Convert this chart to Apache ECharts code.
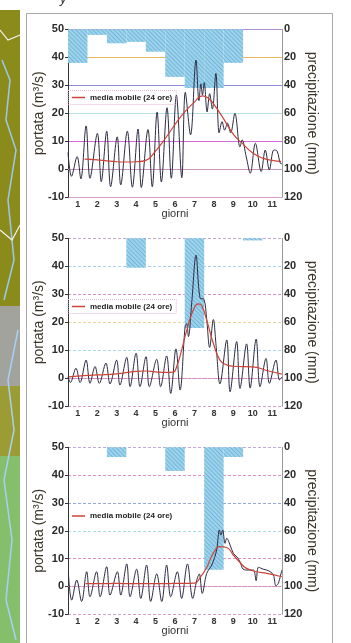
<!DOCTYPE html>
<html>
<head>
<meta charset="utf-8">
<script src="https://cdn.jsdelivr.net/npm/echarts@6.0.0/dist/echarts.min.js"></script>
<style>
  html, body { margin: 0; padding: 0; background: #fff; }
  #chart { width: 351px; height: 643px; }
</style>
</head>
<body>
<div id="chart"></div>
<script>
const days = [1, 2, 3, 4, 5, 6, 7, 8, 9, 10, 11]

// daily rain (mm), one bar per day
const rain1 = [24, 4, 10, 9, 16, 34, 42, 42, 24, 0, 0]
const rain2 = [0, 0, 0, 21, 0, 0, 64, 0, 0, 1.5, 0]
const rain3 = [0, 0, 7, 0, 0, 17, 0, 88, 7, 0, 0]

// flow (m3/s): [day, value]
const flow1 = [
    [0.5, 6], [0.68, -2.5], [0.97, 4.5], [1.16, -3.4], [1.43, 15.5], [1.63, -3.2],
    [2.01, 12.8], [2.21, -4.4], [2.49, 13.6], [2.69, -6.2], [3.03, 11.6], [3.21, -5.6],
    [3.55, 13.6], [3.81, -6.4], [4.1, 14.4], [4.27, -6.5], [4.61, 14.2], [4.83, -6.2],
    [5.08, 20.4], [5.3, -4.5], [5.59, 22], [5.81, -3.2], [6.07, 26.5], [6.35, -3],
    [6.53, 27.5], [6.8, 12.3], [7.08, 39], [7.23, 24.5], [7.33, 30.5], [7.41, 26.5],
    [7.5, 31], [7.65, 20.5], [7.78, 27], [7.92, 21.5], [8.1, 34.2], [8.27, 13],
    [8.42, 17], [8.55, 14], [8.7, 16.5], [8.86, 13], [9.08, 20], [9.34, 8],
    [9.45, 10.5], [9.66, 4.5], [9.87, -1.4], [10.13, 9.3], [10.43, -0.8], [10.64, 6.9],
    [10.85, -0.2], [11.08, 6.9], [11.25, 6.5], [11.42, 2.1], [11.5, 2]
]
const flow2 = [
    [0.5, 0.5], [0.62, -1.5], [0.91, 3.6], [1.12, -1.5], [1.43, 6.5], [1.63, -1.8],
    [1.89, 4.2], [2.11, -1.8], [2.45, 5.4], [2.66, -2], [3.0, 6.5], [3.17, -2.4],
    [3.52, 7.5], [3.69, -3], [4.0, 9], [4.2, -3], [4.51, 7.7], [4.68, -3],
    [5.06, 6.8], [5.26, -3], [5.57, 8], [5.78, -5.4], [6.05, 10.5], [6.26, -4.2],
    [6.52, 18.5], [6.6, 19.5], [6.69, 14.9], [6.86, 27], [7.08, 44], [7.29, 28.6],
    [7.49, 28.2], [7.63, 21], [7.78, 11], [7.97, 21], [8.12, 11], [8.31, -2],
    [8.66, 13.7], [8.83, -4.8], [9.17, 13.1], [9.34, -3.6], [9.68, 12.3], [9.86, -3.5],
    [10.17, 14], [10.37, -3], [10.68, 7.1], [10.85, -1.8], [11.19, 6.5], [11.37, -0.6],
    [11.5, 0.5]
]
const flow3 = [
    [0.52, 4.7], [0.69, -4.9], [0.95, 2.3], [1.2, -5.4], [1.46, 5.3], [1.63, -3.7],
    [1.97, 5.3], [2.15, -3.7], [2.49, 7.1], [2.66, -3.1], [3.04, 5.3], [3.21, -3.1],
    [3.52, 8.1], [3.69, -3.7], [4.03, 6.2], [4.24, -4.3], [4.54, 7.7], [4.75, -5.4],
    [5.06, 4.5], [5.32, -5.4], [5.57, 7.7], [5.78, -3.7], [6.12, 5.3], [6.34, -4.3],
    [6.64, 8.1], [6.91, -4.3], [7.12, 2.3], [7.25, 4.5], [7.4, -2.5], [7.63, 4.7],
    [7.89, 7.7], [8.14, 13.1], [8.28, 20.3], [8.36, 18.5], [8.45, 20.3], [8.57, 15.5],
    [8.66, 17.3], [8.83, 14.9], [9.0, 11.9], [9.17, 10.7], [9.34, 8.9], [9.51, 6.2],
    [9.77, 5.9], [10.03, 5.9], [10.17, 2.1], [10.29, 6.9], [10.54, 6.2], [10.71, 5.9],
    [10.89, 5.3], [11.06, 4.1], [11.19, 0.2], [11.31, 1.1], [11.49, 5.9]
]

// 24 h moving average
const avg1 = [
    [1.35, 3.6], [2, 3.4], [2.5, 3], [3, 2.7], [3.5, 2.6], [4, 2.7], [4.5, 3.2],
    [5, 6.5], [5.5, 11], [6, 16], [6.5, 20.5], [7, 24], [7.4, 26.2], [7.7, 25.5],
    [8, 23.2], [8.5, 18], [9, 12.5], [9.5, 9], [10, 5.8], [10.5, 4], [11, 3.2], [11.45, 2.8]
]
const avg2 = [
    [0.55, 0.5], [1, 0.8], [2, 1.2], [3, 1.6], [4, 2.5], [4.5, 2.6], [5, 2.3], [5.5, 2.1],
    [5.9, 2.2], [6.1, 4.5], [6.3, 9], [6.6, 17], [6.94, 24.4], [7.2, 26.6], [7.37, 26],
    [7.63, 20.8], [7.97, 12.5], [8.31, 6.5], [8.66, 4.8], [9, 4.3], [10, 4.1], [10.7, 2.8], [11.49, 1.5]
]
const avg3 = [
    [1.4, 1], [2, 1], [3, 1.1], [4, 1], [5, 1], [6, 1.1], [7, 1.2], [7.29, 3.2],
    [7.63, 6.8], [7.97, 12], [8.31, 14.3], [8.66, 14], [9.0, 11.3], [9.34, 8.6],
    [9.68, 6.5], [10.2, 5.3], [10.71, 4.7], [11.49, 3.5]
]

const avgName = 'media mobile (24 ore)'
const avgColor = '#cc4438'
const tickFont = 'Liberation Sans, Arial, sans-serif'

const panels = [
    { top: 29.3, height: 168, rain: rain1, flow: flow1, avg: avg1, legendTop: 90.5, box: true,
      gridColors: ['#d8a0c8', '#a8a0c8', '#d868d8', '#b8e0ee', '#8c8cd8', '#e8b860', '#b090d0'], dash: 'solid' },
    { top: 238.3, height: 168, rain: rain2, flow: flow2, avg: avg2, legendTop: 299.5, box: true,
      gridColors: ['#d8a0c8', '#c888d8', '#a8d8ea', '#e8d8a0', '#d890c8', '#a8d0e8', '#c0a8d8'], dash: [3, 2] },
    { top: 447.3, height: 167, rain: rain3, flow: flow3, avg: avg3, legendTop: 509, box: false,
      gridColors: ['#d8a0c8', '#e090c0', '#e090c0', '#a8dcea', '#98a8e0', '#e090c0', '#c0a8d8'], dash: [3, 2] }
]

const chartDom = document.getElementById('chart')
const myChart = echarts.init(chartDom, null, { renderer: 'canvas' })

const grid = [], xAxis = [], yAxis = [], series = [], legend = []

panels.forEach((p, i) => {
    grid.push({ left: 68, right: 69, top: p.top, height: p.height, outerBoundsMode: 'none' })

    xAxis.push({
        type: 'value', gridIndex: i, min: 0.5, max: 11.5,
        name: 'giorni', nameLocation: 'middle', nameGap: 11, nameMoveOverlap: false,
        nameTextStyle: { fontSize: 11, color: '#333', fontFamily: tickFont },
        axisLine: { lineStyle: { color: '#d090c0', type: 'dotted' } },
        axisTick: { show: false },
        splitLine: { show: false },
        axisLabel: { customValues: days, margin: 3, fontSize: 9, fontWeight: 'bold', color: '#333', fontFamily: tickFont }
    })
    xAxis.push({
        type: 'category', gridIndex: i, data: days, show: false, boundaryGap: true
    })

    yAxis.push({
        type: 'value', gridIndex: i, min: -10, max: 50, interval: 10,
        name: 'portata (m³/s)', nameLocation: 'middle', nameGap: 22, nameRotate: 90, nameMoveOverlap: false,
        nameTextStyle: { fontSize: 14, color: '#3a3528', fontFamily: tickFont },
        axisLine: { show: true, lineStyle: { color: '#333' } },
        axisTick: { show: true, length: 3, lineStyle: { color: '#333' } },
        axisLabel: { margin: 4, fontSize: 11, fontWeight: 'bold', color: '#2a2a2a', fontFamily: tickFont },
        splitLine: { show: true, lineStyle: { color: p.gridColors, width: 1, type: p.dash } }
    })
    yAxis.push({
        type: 'value', gridIndex: i, min: 0, max: 120, interval: 20, inverse: true, position: 'right',
        name: 'precipitazione (mm)', nameLocation: 'middle', nameGap: 23, nameRotate: -90, nameMoveOverlap: false,
        nameTextStyle: { fontSize: 14, color: '#3a3528', fontFamily: tickFont },
        axisLine: { show: true, lineStyle: { color: '#999' } },
        axisTick: { show: false },
        axisLabel: { margin: 2, fontSize: 11, fontWeight: 'bold', color: '#2a2a2a', fontFamily: tickFont },
        splitLine: { show: false }
    })

    series.push({
        type: 'bar', xAxisIndex: 2 * i + 1, yAxisIndex: 2 * i + 1,
        data: p.rain, barWidth: '100%', z: 1, silent: true,
        itemStyle: {
            color: '#9cd4ec',
            decal: {
                symbol: 'rect', symbolSize: 1, color: 'rgba(50,120,180,0.35)',
                dashArrayX: [1, 0], dashArrayY: [1, 2], rotation: Math.PI / 4
            }
        }
    })
    series.push({
        type: 'line', xAxisIndex: 2 * i, yAxisIndex: 2 * i,
        data: p.flow, showSymbol: false, smooth: 0.35, z: 3,
        lineStyle: { color: '#2c2c44', width: 1 }
    })
    series.push({
        name: avgName, type: 'line', xAxisIndex: 2 * i, yAxisIndex: 2 * i,
        data: p.avg, showSymbol: false, smooth: 0.5, z: 4,
        itemStyle: { color: avgColor },
        lineStyle: { color: avgColor, width: 1.2 }
    })

    legend.push({
        data: [{ name: avgName, icon: 'rect' }],
        left: 68, top: p.legendTop, padding: [3, 4],
        itemWidth: 13, itemHeight: 1.5,
        borderColor: '#e4b4d4', borderWidth: p.box ? 1 : 0, borderType: 'dotted',
        textStyle: { fontSize: 8, fontWeight: 'bold', color: '#222', fontFamily: tickFont }
    })
})

const graphic = [
    // frame around the three panels
    { type: 'rect', z: 0, shape: { x: 26.5, y: 13.5, width: 306, height: 640 },
      style: { fill: 'none', stroke: '#a8a8a8', lineWidth: 1 } },
    // map strip on the left edge
    { type: 'rect', shape: { x: 0, y: 10, width: 20, height: 296 }, style: { fill: '#8b8b1c' } },
    { type: 'rect', shape: { x: 0, y: 306, width: 20, height: 80 }, style: { fill: '#a3a39e' } },
    { type: 'rect', shape: { x: 0, y: 386, width: 20, height: 70 }, style: { fill: '#9c9c34' } },
    { type: 'rect', shape: { x: 0, y: 456, width: 20, height: 187 }, style: { fill: '#86bf6c' } },
    { type: 'polyline', shape: { points: [[2, 60], [10, 80], [6, 120], [16, 150], [8, 200], [14, 260], [4, 300]] },
      style: { fill: 'none', stroke: '#9cc8f0', lineWidth: 1.5 } },
    { type: 'polyline', shape: { points: [[18, 330], [8, 380], [14, 430], [4, 480], [12, 540], [6, 600], [16, 640]] },
      style: { fill: 'none', stroke: '#a8d0f4', lineWidth: 1.5 } },
    { type: 'polyline', shape: { points: [[0, 30], [8, 40], [20, 35]] },
      style: { fill: 'none', stroke: '#f4f4f0', lineWidth: 1.2 } },
    { type: 'polyline', shape: { points: [[0, 230], [12, 240], [20, 225]] },
      style: { fill: 'none', stroke: '#f4f4f0', lineWidth: 1.2 } },
    { type: 'text', left: 60, top: -7,
      style: { text: 'y', fontSize: 13, fontStyle: 'italic', fill: '#333', fontFamily: tickFont } }
]

myChart.setOption({
    animation: false,
    backgroundColor: '#fff',
    grid, xAxis, yAxis, series, legend, graphic
})
</script>
</body>
</html>
